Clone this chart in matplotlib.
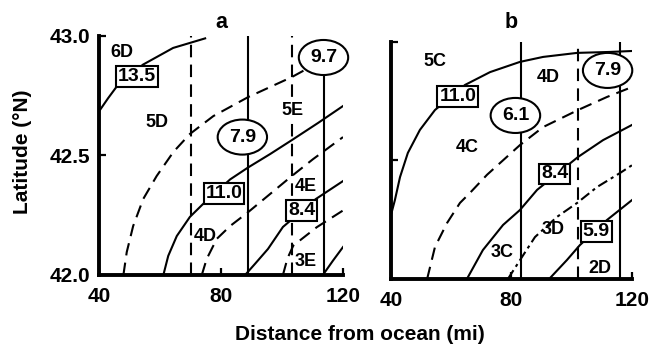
import matplotlib.pyplot as plt

plt.rcParams["font.family"] = ["Liberation Sans", "DejaVu Sans"]
plt.rcParams["font.weight"] = "bold"

# ---- panel a : isolines (distance from ocean, latitude)
a_135_x = [40.3, 43.0, 45.9, 54.4, 64.3, 74.8]
a_135_y = [42.69, 42.74, 42.79, 42.88, 42.95, 42.99]
a_d1_x = [48.0, 49.1, 51.2, 54.5, 58.9, 64.4, 69.8, 77.5, 89.0, 103.2, 108.5]
a_d1_y = [42.0, 42.096, 42.205, 42.318, 42.414, 42.515, 42.59, 42.665, 42.745, 42.828, 42.865]
a_110_x = [61.1, 62.7, 65.5, 69.8, 74.1, 83.0, 88.9, 96.1, 103.3, 111.8, 120]
a_110_y = [42.0, 42.08, 42.163, 42.243, 42.297, 42.40, 42.45, 42.506, 42.565, 42.636, 42.707]
a_d2_x = [73.7, 75.3, 78.6, 83.0, 89.0, 96.1, 103.2, 110.2, 120]
a_d2_y = [42.0, 42.067, 42.151, 42.205, 42.264, 42.339, 42.414, 42.485, 42.577]
a_84_x = [87.9, 91.1, 95.4, 100.3, 111.1, 120]
a_84_y = [42.0, 42.046, 42.109, 42.201, 42.318, 42.393]
a_d3_x = [100.3, 101.8, 103.7, 111.4, 120]
a_d3_y = [42.0, 42.07, 42.123, 42.20, 42.27]
a_s4_x = [113.4, 116.7, 120]
a_s4_y = [42.0, 42.06, 42.117]

# vertical lines in a
a_vdash = [70.1, 103.2]
a_vsolid = [88.9]
a_vsolid_short = 113.8   # stops at the 9.7 ellipse
a_vsolid_short_top = 42.91

# ---- panel b
b_110_x = [40.2, 41.3, 43.0, 45.6, 49.6, 54.6, 64.6, 72.9, 82.8, 90.5, 101.8, 112.7, 120]
b_110_y = [42.28, 42.333, 42.43, 42.532, 42.629, 42.713, 42.819, 42.873, 42.916, 42.937,
           42.954, 42.958, 42.962]
b_d1_x = [52.0, 54.6, 58.6, 62.9, 66.2, 71.9, 82.8, 90.5, 102.1, 111.7, 120]
b_d1_y = [42.0, 42.135, 42.236, 42.321, 42.363, 42.44, 42.565, 42.641, 42.713, 42.768, 42.81]
b_84_x = [65.2, 70.5, 77.2, 82.8, 88.5, 102.1, 110.4, 120]
b_84_y = [42.0, 42.122, 42.228, 42.291, 42.376, 42.515, 42.586, 42.65]
b_dd_x = [78.8, 83.5, 87.8, 95.1, 101.8, 108.4, 116.0, 120]
b_dd_y = [42.0, 42.093, 42.177, 42.262, 42.321, 42.388, 42.447, 42.48]
b_59_x = [92.5, 98.4, 102.7, 111.7, 120]
b_59_y = [42.0, 42.08, 42.143, 42.249, 42.333]

b_vdash = [102.1]
b_vsolid = [83.0, 116.0]

# boxed / ellipse labels : (text, x, y)
a_boxes = [("13.5", 52.5, 42.83), ("11.0", 81.0, 42.34), ("8.4", 106.4, 42.27)]
a_ovals = [("7.9", 87.0, 42.577), ("9.7", 113.6, 42.91)]
b_boxes = [("11.0", 62.2, 42.77), ("8.4", 94.3, 42.443), ("5.9", 108.1, 42.20)]
b_ovals = [("6.1", 81.3, 42.69), ("7.9", 111.9, 42.88)]

# zone names
a_zones = [("6D", 47.5, 42.93), ("5D", 59.0, 42.64), ("5E", 103.3, 42.69),
           ("4E", 107.8, 42.37), ("4D", 74.8, 42.16), ("3E", 107.8, 42.055)]
b_zones = [("5C", 54.6, 42.916), ("4C", 65.2, 42.553), ("3C", 76.9, 42.11),
           ("4D", 92.1, 42.852), ("3D", 93.8, 42.207), ("2D", 109.4, 42.046)]

DASH = (0, (6, 3.5))
LW = 1.5

fig = plt.figure(figsize=(6.68, 3.47), dpi=100)
ax_a = fig.add_axes([0.1482, 0.2075, 0.3653, 0.6888])
ax_b = fig.add_axes([0.5853, 0.196, 0.3608, 0.683])


def setup(ax, title, pad, show_ylabels):
    ax.set_xlim(40, 120)
    ax.set_ylim(42, 43)
    for s in ["top", "right"]:
        ax.spines[s].set_visible(False)
    for s in ["left", "bottom"]:
        ax.spines[s].set_linewidth(2.8)
    ax.set_xticks([40, 80, 120])
    ax.set_yticks([42.0, 42.5, 43.0])
    if show_ylabels:
        ax.set_yticklabels(["42.0", "42.5", "43.0"])
    else:
        ax.set_yticklabels([])
    ax.tick_params(direction="in", length=5, width=1.6, labelsize=15, pad=6)
    ax.tick_params(axis="x", pad=9)
    ax.set_title(title, fontsize=15.5, fontweight="bold", pad=pad)


def label_box(ax, items, style, pad):
    for t, x, y in items:
        ax.text(x, y, t, fontsize=14, ha="center", va="center", zorder=6,
                bbox=dict(boxstyle=f"{style},pad={pad}", fc="white", ec="black", lw=1.5))


setup(ax_a, "a", 6, True)
setup(ax_b, "b", 10, False)

# panel a lines
ax_a.plot(a_135_x, a_135_y, color="black", lw=LW)
ax_a.plot(a_d1_x, a_d1_y, color="black", lw=LW, ls=DASH)
ax_a.plot(a_110_x, a_110_y, color="black", lw=LW)
ax_a.plot(a_d2_x, a_d2_y, color="black", lw=LW, ls=DASH)
ax_a.plot(a_84_x, a_84_y, color="black", lw=LW)
ax_a.plot(a_d3_x, a_d3_y, color="black", lw=LW, ls=DASH)
ax_a.plot(a_s4_x, a_s4_y, color="black", lw=LW)
ax_a.vlines(a_vdash, 42, 43, color="black", lw=LW, linestyles=DASH)
ax_a.vlines(a_vsolid, 42, 43, color="black", lw=LW)
ax_a.vlines(a_vsolid_short, 42, a_vsolid_short_top, color="black", lw=LW)

label_box(ax_a, a_boxes, "square", 0.1)
label_box(ax_a, a_ovals, "ellipse", 0.2)
for t, x, y in a_zones:
    bb = dict(boxstyle="square,pad=0.05", fc="white", ec="none") if t == "5E" else None
    ax_a.text(x, y, t, fontsize=13, ha="center", va="center", zorder=4, bbox=bb)

# panel b lines
ax_b.plot(b_110_x, b_110_y, color="black", lw=LW)
ax_b.plot(b_d1_x, b_d1_y, color="black", lw=LW, ls=DASH)
ax_b.plot(b_84_x, b_84_y, color="black", lw=LW)
ax_b.plot(b_dd_x, b_dd_y, color="black", lw=LW, ls=(0, (5, 2, 1.5, 2)))
ax_b.plot(b_59_x, b_59_y, color="black", lw=LW)
ax_b.vlines(b_vdash, 42, 43, color="black", lw=LW, linestyles=DASH)
ax_b.vlines(b_vsolid, 42, 43, color="black", lw=LW)

label_box(ax_b, b_boxes, "square", 0.1)
label_box(ax_b, b_ovals, "ellipse", 0.2)
for t, x, y in b_zones:
    ax_b.text(x, y, t, fontsize=13, ha="center", va="center", zorder=4)

fig.text(23 / 668, 0.562, "Latitude (°N)", rotation=90, fontsize=15,
         fontweight="bold", ha="center", va="center")
fig.text(360 / 668, 0.035, "Distance from ocean (mi)", fontsize=15,
         fontweight="bold", ha="center", va="center")

fig.savefig("out.png", dpi=100)
